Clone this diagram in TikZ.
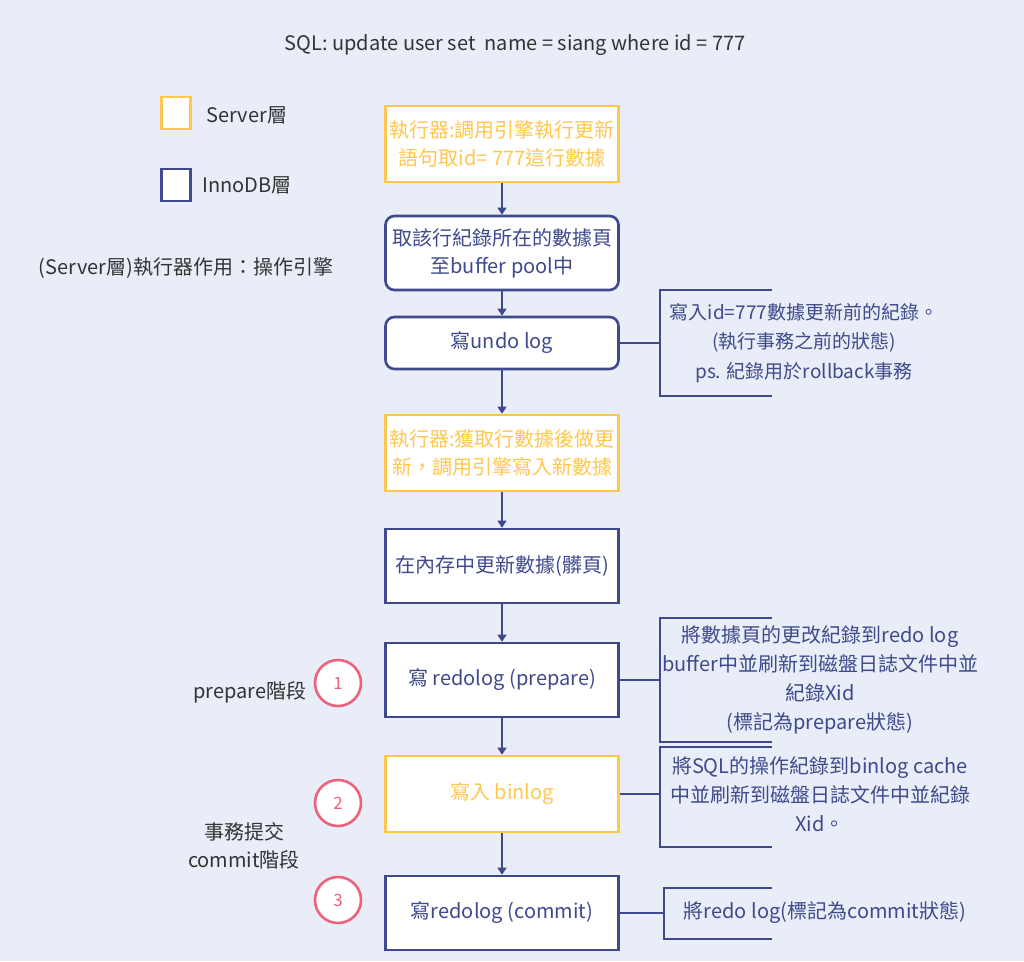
\documentclass[tikz,border=0pt]{standalone}
\usepackage{fontspec}
\setmainfont{Noto Sans CJK TC}
\usetikzlibrary{positioning,arrows.meta}
\definecolor{bgblue}{RGB}{233,237,247}
\definecolor{srvyellow}{RGB}{255,199,77}
\definecolor{innonavy}{RGB}{62,74,140}
\definecolor{stepred}{RGB}{234,98,124}
\definecolor{darktext}{RGB}{51,51,51}

\begin{document}
\begin{tikzpicture}[
  x=1pt, y=-1pt,
  every node/.style={font=\fontsize{20}{28}\selectfont, align=center},
  serverbox/.style={draw=srvyellow, line width=2.6pt, fill=white, text=srvyellow, minimum width=233pt, minimum height=76pt, inner sep=2pt},
  innobox/.style={draw=innonavy, line width=2.6pt, fill=white, text=innonavy, minimum width=233pt, minimum height=74pt, inner sep=2pt},
  roundbox/.style={innobox, rounded corners=9pt},
  flow/.style={draw=innonavy, line width=1.3pt, -{Triangle[length=7pt,width=9pt]}},
  bracket/.style={draw=innonavy, line width=2.6pt},
  note/.style={text=innonavy, font=\fontsize{20}{29}\selectfont},
  smallnote/.style={note, font=\fontsize{19}{29.5}\selectfont},
  stepmark/.style={circle, draw=stepred, line width=2.6pt, fill=white, text=stepred, minimum size=46pt, inner sep=0pt, font=\fontsize{17}{20}\selectfont},
  sidelabel/.style={text=darktext},
  legendbox/.style={line width=2.8pt, fill=white, minimum width=29pt, minimum height=32pt}
]
\useasboundingbox[fill=bgblue] (0,0) rectangle (1024,961);

% title and legend
\node[sidelabel] (title) at (515,45) {SQL: update user set\ \ name = siang where id = 777};
\node[legendbox, draw=srvyellow] (legsrv) at (176,113) {};
\node[sidelabel, anchor=west] (legsrvtext) at (203,115) {Server層};
\node[legendbox, draw=innonavy] (leginno) at (176,185) {};
\node[sidelabel, anchor=west] (leginnotext) at (199,185) {InnoDB層};
\node[sidelabel] (executor) at (186,268) {(Server層)執行器作用：操作引擎};

% main flow
\node[serverbox] (call) at (502,144) {執行器:調用引擎執行更新\\語句取id= 777這行數據};
\node[roundbox] (fetch) at (502,253) {取該行紀錄所在的數據頁\\至buffer pool中};
\node[roundbox, minimum height=52pt] (undo) at (502,343) {寫undo log};
\node[serverbox] (update) at (502,453) {執行器:獲取行數據後做更\\新，調用引擎寫入新數據};
\node[innobox] (dirty) at (502,566) {在內存中更新數據(髒頁)};
\node[innobox] (prepare) at (502,680) {寫 redolog (prepare)};
\node[serverbox] (binlog) at (502,794) {寫入 binlog};
\node[innobox] (commit) at (502,913) {寫redolog (commit)};

\draw[flow] (call) -- (fetch);
\draw[flow] (fetch) -- (undo);
\draw[flow] (undo) -- (update);
\draw[flow] (update) -- (dirty);
\draw[flow] (dirty) -- (prepare);
\draw[flow] (prepare) -- (binlog);
\draw[flow] (binlog) -- (commit);

% steps
\node[stepmark] (one) at (338,683) {1};
\node[stepmark] (two) at (338,803) {2};
\node[stepmark] (three) at (338,900) {3};
\node[sidelabel] (preparephase) at (250,692) {prepare階段};
\node[sidelabel] (commitphase) at (244,846) {事務提交\\commit階段};

% notes
\coordinate (undotop) at (772,290);
\coordinate (undobot) at (772,396);
\draw[bracket] (undo.east) -- (660,343) coordinate (undomid);
\draw[bracket] (undotop) -| (undomid) |- (undobot);
\node[smallnote] (undonote) at (804,343) {寫入id=777數據更新前的紀錄。\\(執行事務之前的狀態)\\ps. 紀錄用於rollback事務};

\coordinate (preptop) at (772,618);
\coordinate (prepbot) at (772,742);
\draw[bracket] (prepare.east) -- (660,680) coordinate (prepmid);
\draw[bracket] (preptop) -| (prepmid) |- (prepbot);
\node[note] (prepnote) at (820,680) {將數據頁的更改紀錄到redo log\\buffer中並刷新到磁盤日誌文件中並\\紀錄Xid\\(標記為prepare狀態)};

\coordinate (bintop) at (772,747);
\coordinate (binbot) at (772,847);
\draw[bracket] (binlog.east) -- (660,794) coordinate (binmid);
\draw[bracket] (bintop) -| (binmid) |- (binbot);
\node[note] (binnote) at (820,794) {將SQL的操作紀錄到binlog cache\\中並刷新到磁盤日誌文件中並紀錄\\Xid。};

\coordinate (comtop) at (772,888);
\coordinate (combot) at (772,939);
\draw[bracket] (commit.east) -- (664,913) coordinate (commid);
\draw[bracket] (comtop) -| (commid) |- (combot);
\node[note] (comnote) at (825,913) {將redo log(標記為commit狀態)};
\end{tikzpicture}
\end{document}
